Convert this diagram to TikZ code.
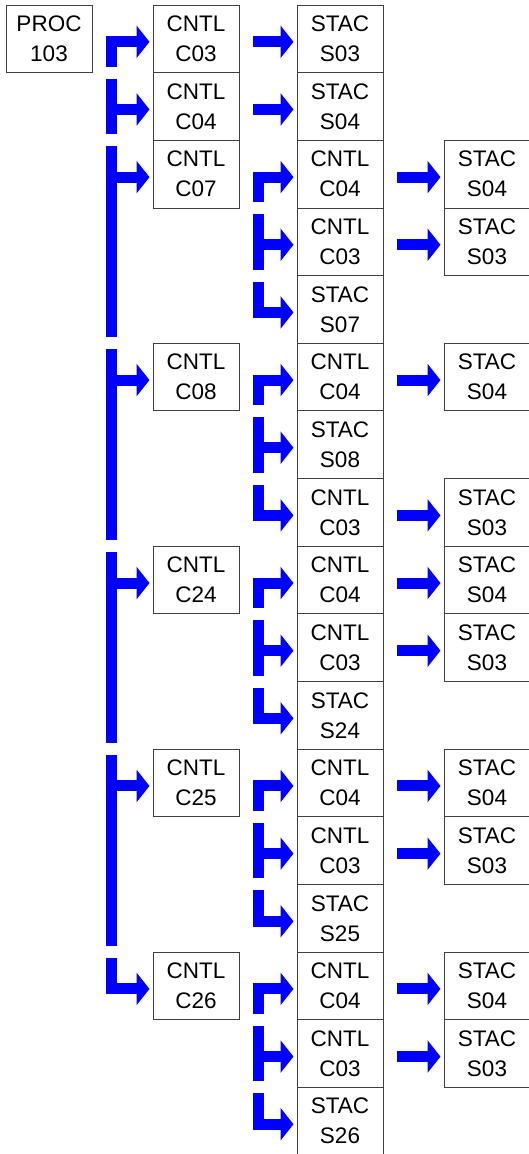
\documentclass[tikz,border=0pt]{standalone}
\usepackage{fontspec}
\setmainfont{Liberation Sans}
\usetikzlibrary{arrows.meta,positioning,calc}

\begin{document}
\begin{tikzpicture}[>={Triangle[length=13pt,width=32pt]},
                    box/.style={draw=black!75,line width=0.9pt,minimum width=86pt,
                                minimum height=67.65pt,inner sep=0pt,outer sep=0pt,
                                align=center,font=\fontsize{22.5pt}{30pt}\selectfont},
                    bus/.style={draw=blue,line width=11pt},
                    flow/.style={bus,->,shorten >=3.5pt,line join=miter}]
    \useasboundingbox (0,0) rectangle (528pt,-1154pt);

    % third column: one box under the other
    \node[box,anchor=north west] (s03) at (297pt,-5pt) {STAC\\S03};
    \node[box] (s04)    [below=0pt of s03]    {STAC\\S04};
    \node[box] (c07c04) [below=0pt of s04]    {CNTL\\C04};
    \node[box] (c07c03) [below=0pt of c07c04] {CNTL\\C03};
    \node[box] (s07)    [below=0pt of c07c03] {STAC\\S07};
    \node[box] (c08c04) [below=0pt of s07]    {CNTL\\C04};
    \node[box] (s08)    [below=0pt of c08c04] {STAC\\S08};
    \node[box] (c08c03) [below=0pt of s08]    {CNTL\\C03};
    \node[box] (c24c04) [below=0pt of c08c03] {CNTL\\C04};
    \node[box] (c24c03) [below=0pt of c24c04] {CNTL\\C03};
    \node[box] (s24)    [below=0pt of c24c03] {STAC\\S24};
    \node[box] (c25c04) [below=0pt of s24]    {CNTL\\C04};
    \node[box] (c25c03) [below=0pt of c25c04] {CNTL\\C03};
    \node[box] (s25)    [below=0pt of c25c03] {STAC\\S25};
    \node[box] (c26c04) [below=0pt of s25]    {CNTL\\C04};
    \node[box] (c26c03) [below=0pt of c26c04] {CNTL\\C03};
    \node[box] (s26)    [below=0pt of c26c03] {STAC\\S26};

    % second column
    \node[box] (c03) [left=58pt of s03]    {CNTL\\C03};
    \node[box] (c04) [left=58pt of s04]    {CNTL\\C04};
    \node[box] (c07) [left=58pt of c07c04] {CNTL\\C07};
    \node[box] (c08) [left=58pt of c08c04] {CNTL\\C08};
    \node[box] (c24) [left=58pt of c24c04] {CNTL\\C24};
    \node[box] (c25) [left=58pt of c25c04] {CNTL\\C25};
    \node[box] (c26) [left=58pt of c26c04] {CNTL\\C26};

    \node[box] (proc) [left=61pt of c03] {PROC\\103};

    % fourth column
    \node[box] (c07s04) [right=61pt of c07c04] {STAC\\S04};
    \node[box] (c07s03) [right=61pt of c07c03] {STAC\\S03};
    \node[box] (c08s04) [right=61pt of c08c04] {STAC\\S04};
    \node[box] (c08s03) [right=61pt of c08c03] {STAC\\S03};
    \node[box] (c24s04) [right=61pt of c24c04] {STAC\\S04};
    \node[box] (c24s03) [right=61pt of c24c03] {STAC\\S03};
    \node[box] (c25s04) [right=61pt of c25c04] {STAC\\S04};
    \node[box] (c25s03) [right=61pt of c25c03] {STAC\\S03};
    \node[box] (c26s04) [right=61pt of c26c04] {STAC\\S04};
    \node[box] (c26s03) [right=61pt of c26c03] {STAC\\S03};

    \coordinate (b1) at ($(proc.east)+(19pt,0)$);
    \coordinate (b2) at ($(c03.east)+(19pt,0)$);

    % PROC 103 to the second column
    \draw[flow] ($(b1 |- c03.south)+(0,6pt)$) |- ([yshift=-3pt]c03.west);
    \draw[bus]  ($(b1 |- c04.north)+(0,-6pt)$) -- ($(b1 |- c04.south)+(0,6pt)$);
    \draw[flow] ($(b1 |- c04.west)+(-5.5pt,-3pt)$) -- ([yshift=-3pt]c04.west);
    \draw[bus]  ($(b1 |- c07.north)+(0,-6pt)$) -- ($(b1 |- s07.south)+(0,6pt)$);
    \draw[flow] ($(b1 |- c07.west)+(-5.5pt,-3pt)$) -- ([yshift=-3pt]c07.west);
    \draw[bus]  ($(b1 |- c08.north)+(0,-6pt)$) -- ($(b1 |- c08c03.south)+(0,6pt)$);
    \draw[flow] ($(b1 |- c08.west)+(-5.5pt,-3pt)$) -- ([yshift=-3pt]c08.west);
    \draw[bus]  ($(b1 |- c24.north)+(0,-6pt)$) -- ($(b1 |- s24.south)+(0,6pt)$);
    \draw[flow] ($(b1 |- c24.west)+(-5.5pt,-3pt)$) -- ([yshift=-3pt]c24.west);
    \draw[bus]  ($(b1 |- c25.north)+(0,-6pt)$) -- ($(b1 |- s25.south)+(0,6pt)$);
    \draw[flow] ($(b1 |- c25.west)+(-5.5pt,-3pt)$) -- ([yshift=-3pt]c25.west);
    \draw[flow] ($(b1 |- c26.north)+(0,-6pt)$) |- ([yshift=-3pt]c26.west);

    % second column to the third
    \draw[flow] ($(c03.east)+(14pt,-3pt)$) -- ([yshift=-3pt]s03.west);
    \draw[flow] ($(c04.east)+(14pt,-3pt)$) -- ([yshift=-3pt]s04.west);

    \draw[flow] ($(b2 |- c07c04.south)+(0,6pt)$) |- ([yshift=-3pt]c07c04.west);
    \draw[bus]  ($(b2 |- c07c03.north)+(0,-6pt)$) -- ($(b2 |- c07c03.south)+(0,6pt)$);
    \draw[flow] ($(b2 |- c07c03.west)+(-5.5pt,-3pt)$) -- ([yshift=-3pt]c07c03.west);
    \draw[flow] ($(b2 |- s07.north)+(0,-6pt)$) |- ([yshift=-3pt]s07.west);

    \draw[flow] ($(b2 |- c08c04.south)+(0,6pt)$) |- ([yshift=-3pt]c08c04.west);
    \draw[bus]  ($(b2 |- s08.north)+(0,-6pt)$) -- ($(b2 |- s08.south)+(0,6pt)$);
    \draw[flow] ($(b2 |- s08.west)+(-5.5pt,-3pt)$) -- ([yshift=-3pt]s08.west);
    \draw[flow] ($(b2 |- c08c03.north)+(0,-6pt)$) |- ([yshift=-3pt]c08c03.west);

    \draw[flow] ($(b2 |- c24c04.south)+(0,6pt)$) |- ([yshift=-3pt]c24c04.west);
    \draw[bus]  ($(b2 |- c24c03.north)+(0,-6pt)$) -- ($(b2 |- c24c03.south)+(0,6pt)$);
    \draw[flow] ($(b2 |- c24c03.west)+(-5.5pt,-3pt)$) -- ([yshift=-3pt]c24c03.west);
    \draw[flow] ($(b2 |- s24.north)+(0,-6pt)$) |- ([yshift=-3pt]s24.west);

    \draw[flow] ($(b2 |- c25c04.south)+(0,6pt)$) |- ([yshift=-3pt]c25c04.west);
    \draw[bus]  ($(b2 |- c25c03.north)+(0,-6pt)$) -- ($(b2 |- c25c03.south)+(0,6pt)$);
    \draw[flow] ($(b2 |- c25c03.west)+(-5.5pt,-3pt)$) -- ([yshift=-3pt]c25c03.west);
    \draw[flow] ($(b2 |- s25.north)+(0,-6pt)$) |- ([yshift=-3pt]s25.west);

    \draw[flow] ($(b2 |- c26c04.south)+(0,6pt)$) |- ([yshift=-3pt]c26c04.west);
    \draw[bus]  ($(b2 |- c26c03.north)+(0,-6pt)$) -- ($(b2 |- c26c03.south)+(0,6pt)$);
    \draw[flow] ($(b2 |- c26c03.west)+(-5.5pt,-3pt)$) -- ([yshift=-3pt]c26c03.west);
    \draw[flow] ($(b2 |- s26.north)+(0,-6pt)$) |- ([yshift=-3pt]s26.west);

    % third column to the fourth
    \draw[flow] ($(c07c04.east)+(14pt,-3pt)$) -- ([yshift=-3pt]c07s04.west);
    \draw[flow] ($(c07c03.east)+(14pt,-3pt)$) -- ([yshift=-3pt]c07s03.west);
    \draw[flow] ($(c08c04.east)+(14pt,-3pt)$) -- ([yshift=-3pt]c08s04.west);
    \draw[flow] ($(c08c03.east)+(14pt,-3pt)$) -- ([yshift=-3pt]c08s03.west);
    \draw[flow] ($(c24c04.east)+(14pt,-3pt)$) -- ([yshift=-3pt]c24s04.west);
    \draw[flow] ($(c24c03.east)+(14pt,-3pt)$) -- ([yshift=-3pt]c24s03.west);
    \draw[flow] ($(c25c04.east)+(14pt,-3pt)$) -- ([yshift=-3pt]c25s04.west);
    \draw[flow] ($(c25c03.east)+(14pt,-3pt)$) -- ([yshift=-3pt]c25s03.west);
    \draw[flow] ($(c26c04.east)+(14pt,-3pt)$) -- ([yshift=-3pt]c26s04.west);
    \draw[flow] ($(c26c03.east)+(14pt,-3pt)$) -- ([yshift=-3pt]c26s03.west);
\end{tikzpicture}
\end{document}
